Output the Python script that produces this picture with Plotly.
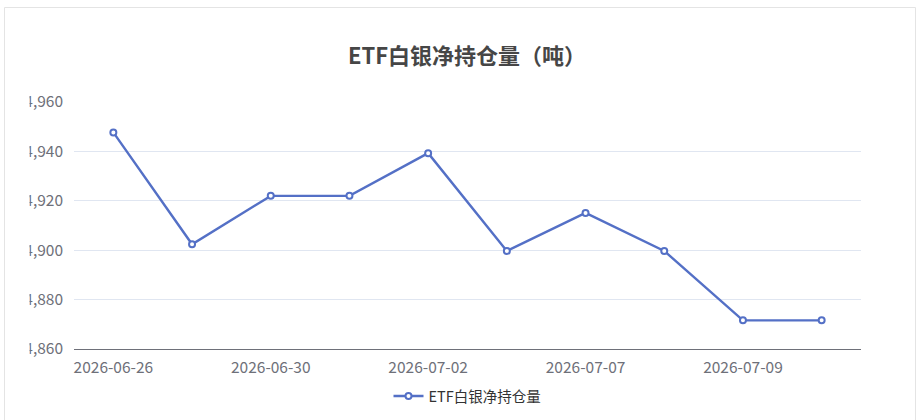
import plotly.graph_objects as go

# data
dates = ['2026-06-26', '2026-06-29', '2026-06-30', '2026-07-01', '2026-07-02',
         '2026-07-06', '2026-07-07', '2026-07-08', '2026-07-09', '2026-07-10']
holdings = [14947.7, 14902.4, 14922.0, 14922.0, 14939.3,
            14899.7, 14915.1, 14899.7, 14871.6, 14871.6]
shown_dates = dates[::2]
series_name = 'ETF白银净持仓量'
title_text = 'ETF白银净持仓量（吨）'

font_cjk = 'Noto Sans CJK SC'
line_color = '#5470c6'
axis_color = '#6E7079'

# plot area in pixels
W, H = 924, 420
L, R, T, B = 74, 63, 102, 71
pw, ph = W - L - R, H - T - B


def px_x(x):
    return (x - L) / pw


def px_y(y):
    return (H - B - y) / ph


fig = go.Figure()
fig.add_trace(go.Scatter(
    x=dates, y=holdings, mode='lines+markers', name=series_name,
    line=dict(color=line_color, width=2.4),
    marker=dict(symbol='circle', size=6, color='white',
                line=dict(color=line_color, width=2)),
))

fig.update_layout(
    width=W, height=H,
    margin=dict(l=L, r=R, t=T, b=B, autoexpand=False),
    paper_bgcolor='white', plot_bgcolor='white',
    font=dict(family=font_cjk, color=axis_color, size=15),
    title=dict(text=title_text, x=0.5 + 5 / W, xanchor='center', y=1 - 56 / H, yanchor='middle',
               yref='container', font=dict(size=22, color='#464646', family=font_cjk, weight='bold')),
    showlegend=True,
    legend=dict(orientation='h', x=0.5, xanchor='center', y=px_y(396), yanchor='middle',
                font=dict(size=14.5, color='#333333', family=font_cjk)),
    xaxis=dict(type='category', range=[-0.5, len(dates) - 0.5],
               tickmode='array', tickvals=shown_dates, ticktext=shown_dates,
               showline=True, linecolor=axis_color, linewidth=1.2,
               showgrid=False, ticks='', tickfont=dict(size=15.5, color=axis_color),
               ticklabelstandoff=4),
    yaxis=dict(range=[14860, 14960], dtick=20, tickformat=',',
               showgrid=True, gridcolor='#E0E6F1', gridwidth=1,
               zeroline=False, showline=False, ticks='',
               tickfont=dict(size=15.5, color=axis_color), ticklabelstandoff=10),
    shapes=[
        # the chart container cuts off the first digit of the y labels
        dict(type='rect', xref='paper', yref='paper', layer='above',
             x0=px_x(5), x1=px_x(29.5), y0=px_y(380), y1=px_y(80),
             fillcolor='white', line=dict(width=0)),
        # card border
        dict(type='rect', xref='paper', yref='paper', layer='above',
             x0=px_x(4.5), x1=px_x(915.5), y0=px_y(440), y1=px_y(7.5),
             fillcolor='rgba(0,0,0,0)', line=dict(color='#e4e4e4', width=1)),
    ],
)

fig.write_html('out.html', config={'displayModeBar': False},
               post_script="document.body.style.margin='0';")
